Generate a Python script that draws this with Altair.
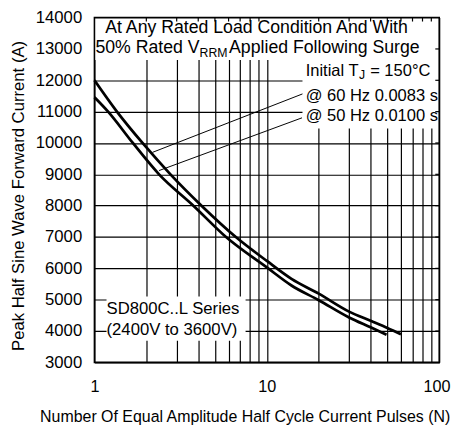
import altair as alt
import pandas as pd

FONT = "Liberation Sans"

# ---- curve data ----
n_60 = [1, 1.35, 1.9, 2.76, 4.18, 6.61, 10, 13.9, 20, 30, 40, 50, 60]
i_60 = [12000, 11000, 10000, 9000, 8000, 7000, 6237, 5664, 5193, 4620, 4326, 4097, 3895]
n_50 = [1, 1.2, 1.67, 2.37, 3.75, 5.8, 10, 13.9, 20, 30, 40, 49.5]
i_50 = [11460, 11000, 10000, 9000, 8000, 7000, 6030, 5454, 4984, 4432, 4118, 3885]

# ---- axes ----
x_domain = [1, 100]
y_domain = [3000, 14000]
x_grid = [1, 2, 3, 4, 5, 6, 7, 8, 9, 10, 20, 30, 40, 50, 60, 70, 80, 90, 100]
x_labels = [1, 10, 100]
y_grid = [3000, 4000, 5000, 6000, 7000, 8000, 9000, 10000, 11000, 12000, 13000, 14000]
x_title = "Number Of Equal Amplitude Half Cycle Current Pulses (N)"
y_title = "Peak Half Sine Wave Forward Current (A)"

# inner frame ticks
top_tick_x = [2, 3, 4, 5, 6, 7, 8, 9, 20, 30, 40, 50, 60, 70, 80, 90]
right_tick_y = [4000, 5000, 6000, 7000, 8000, 9000, 10000, 11000, 12000, 13000]

# ---- annotation boxes (white backgrounds) ----
box_x = [1, 16.1, 1.175]
box_x2 = [100, 100, 7.53]
box_y = [14000, 12650, 5100]
box_y2 = [12650, 10460, 3690]

# ---- leader lines ----
lead_x = [2.17, 2.37]
lead_y = [9700, 9120]
lead_x2 = [16.1, 16.0]
lead_y2 = [11565, 10803]

# ---- annotation texts ----
txt_left = ["At Any Rated Load Condition And With", "50% Rated V", "RRM",
            "Applied Following Surge", "Initial T", "J",
            "@ 60 Hz 0.0083 s", "@ 50 Hz 0.0100 s",
            "SD800C..L Series", "(2400V to 3600V)"]
txt_left_x = [1.155, 1.013, 4.07, 6.04, 16.8, 34.2, 16.8, 16.8, 1.175, 1.175]
txt_left_y = [13655, 13028, 12872, 13028, 12308, 12160, 11493, 10860, 4690, 4018]
txt_left_size = [18, 18, 12.5, 18, 16.8, 12.5, 16.8, 16.8, 17, 17]
txt_right = ["= 150°C"]
txt_right_x = [88.9]
txt_right_y = [12308]
txt_right_size = [16.8]

label_expr = ("(datum.value == 1 || datum.value == 10 || datum.value == 100) "
              "? format(datum.value, 'd') : ''")

xscale = alt.Scale(type="log", domain=x_domain, nice=False)
yscale = alt.Scale(domain=y_domain, nice=False, zero=False)

xaxis = alt.Axis(values=x_grid, labelExpr=label_expr, title=x_title,
                 grid=True, gridColor="black", gridWidth=1.2, gridOpacity=1,
                 domain=False, ticks=False, tickSize=0, labelFlush=False,
                 labelAlign={"condition": {"test": "datum.value == 100", "value": "right"},
                             "value": "center"},
                 labelOffset={"condition": {"test": "datum.value == 100", "value": 11},
                              "value": 0},
                 labelPadding=17, labelFontSize=16.5, labelFont=FONT, labelColor="black",
                 titleFont=FONT, titleFontSize=16.2, titleFontWeight="normal", titleColor="black",
                 titleX=153, titleY=55, titleBaseline="middle", titleAlign="center")
yaxis = alt.Axis(values=y_grid, title=y_title, format="d",
                 grid=True, gridColor="black", gridWidth=1.2, gridOpacity=1,
                 domain=False, ticks=False, tickSize=0,
                 labelPadding=13, labelFontSize=17, labelFont=FONT, labelColor="black",
                 titleFont=FONT, titleFontSize=17, titleFontWeight="normal", titleColor="black",
                 titleX=-77, titleY=181, titleBaseline="middle", titleAlign="center")

X = alt.X("x:Q", scale=xscale, axis=xaxis)
Y = alt.Y("y:Q", scale=yscale, axis=yaxis)

curves_df = pd.concat([
    pd.DataFrame({"x": n_60, "y": i_60, "series": "60 Hz"}),
    pd.DataFrame({"x": n_50, "y": i_50, "series": "50 Hz"}),
])
boxes_df = pd.DataFrame({"x": box_x, "x2": box_x2, "y": box_y, "y2": box_y2})
lead_df = pd.DataFrame({"x": lead_x, "y": lead_y, "x2": lead_x2, "y2": lead_y2})
tl_df = pd.DataFrame({"x": txt_left_x, "y": txt_left_y, "text": txt_left, "size": txt_left_size})
tr_df = pd.DataFrame({"x": txt_right_x, "y": txt_right_y, "text": txt_right, "size": txt_right_size})
top_df = pd.DataFrame({"x": top_tick_x, "y": [y_domain[1]] * len(top_tick_x),
                       "y2": [y_domain[1] - 125] * len(top_tick_x)})
right_df = pd.DataFrame({"y": right_tick_y, "x": [x_domain[1]] * len(right_tick_y),
                         "x2": [94.9] * len(right_tick_y)})
frame_df = pd.DataFrame({"x": [x_domain[0]], "x2": [x_domain[1]],
                         "y": [y_domain[0]], "y2": [y_domain[1]]})

boxes = alt.Chart(boxes_df).mark_rect(fill="white", strokeWidth=0).encode(
    x=X, x2="x2:Q", y=Y, y2="y2:Q")
curves = alt.Chart(curves_df).mark_line(color="black", strokeWidth=2.8,
                                        interpolate="monotone").encode(
    x=X, y=Y, detail="series:N")
leaders = alt.Chart(lead_df).mark_rule(color="black", strokeWidth=1).encode(
    x=X, y=Y, x2="x2:Q", y2="y2:Q")
texts_l = alt.Chart(tl_df).mark_text(align="left", baseline="middle", font=FONT,
                                     color="black").encode(
    x=X, y=Y, text="text:N", size=alt.Size("size:Q", scale=None))
texts_r = alt.Chart(tr_df).mark_text(align="right", baseline="middle", font=FONT,
                                     color="black").encode(
    x=X, y=Y, text="text:N", size=alt.Size("size:Q", scale=None))
top_ticks = alt.Chart(top_df).mark_rule(color="black", strokeWidth=1.2).encode(
    x=X, y=Y, y2="y2:Q")
right_ticks = alt.Chart(right_df).mark_rule(color="black", strokeWidth=1.2).encode(
    x=X, x2="x2:Q", y=Y)
frame = alt.Chart(frame_df).mark_rect(fillOpacity=0, stroke="black", strokeWidth=1.6).encode(
    x=X, x2="x2:Q", y=Y, y2="y2:Q")

chart = alt.layer(boxes, curves, leaders, texts_l, texts_r, top_ticks, right_ticks, frame).properties(
    width=351, height=351,
    padding={"left": 88, "top": 6, "right": 12, "bottom": 62},
    autosize=alt.AutoSizeParams(type="none"),
    background="white",
).configure_view(strokeWidth=0)

chart.save("out.html", embed_options={"renderer": "svg", "actions": False})
